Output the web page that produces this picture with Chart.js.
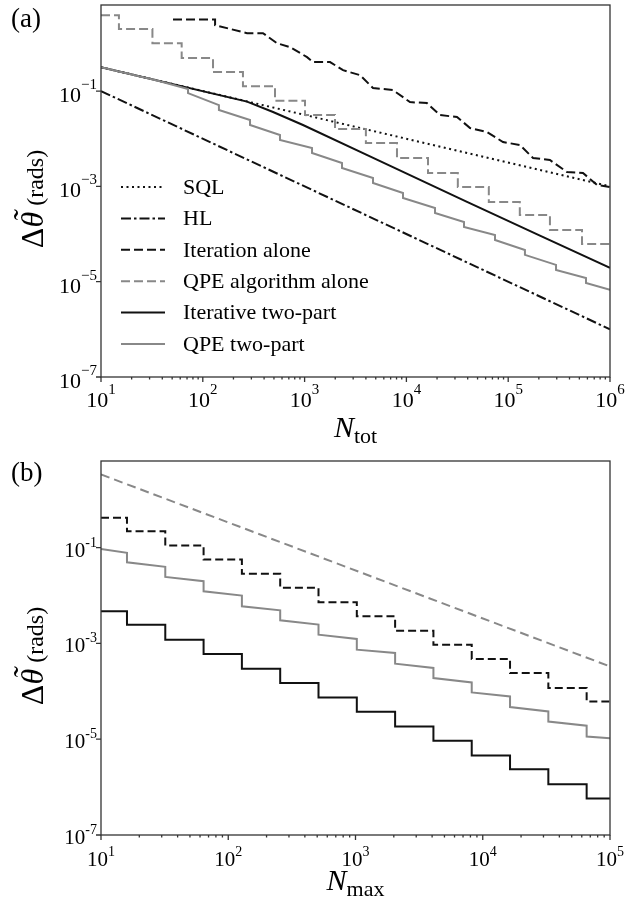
<!DOCTYPE html>
<html>
<head>
<meta charset="utf-8">
<script src="https://cdn.jsdelivr.net/npm/chart.js@4.4.1/dist/chart.umd.min.js"></script>
<style>
    body { margin: 0; background: #fff; }
    canvas { display: block; }
</style>
</head>
<body>
<canvas id="chartA" width="635" height="450"></canvas>
<canvas id="chartB" width="635" height="451"></canvas>
<script>
    // ---- panel (a) data: error vs total resources N_tot ----
    var sqlN = [10, 1000000];
    var sqlVal = [0.316, 0.001];
    var hlN = [10, 1000000];
    var hlVal = [0.1, 0.000001];

    var iterAloneN = [51, 132, 132, 272, 390, 536, 719, 1057, 1211, 1778, 2384, 3500, 4700, 7380, 10840, 15900,
        21400, 31400, 42200, 62000, 88900, 130600, 175400, 257000, 378000, 543000, 745000, 1000000];
    var iterAloneVal = [3.18, 3.18, 2.42, 1.64, 1.64, 1.01, 0.836, 0.516, 0.406, 0.406, 0.275, 0.216, 0.116, 0.105,
        0.0587, 0.056, 0.0314, 0.0285, 0.0168, 0.0138, 0.00853, 0.00738, 0.00394, 0.00357, 0.0020, 0.00191, 0.00107, 0.00097];

    // QPE algorithm alone is a staircase: step edges and the levels between them
    var qpeAloneEdges = [15, 32, 62, 126, 248, 512, 1009, 1990, 4000, 8080, 16300, 32000, 64500, 130000, 257000, 531000];
    var qpeAloneLevels = [3.92, 2.0, 1.01, 0.492, 0.25, 0.127, 0.0627, 0.0314, 0.016, 0.00812, 0.00394, 0.00191,
        0.000971, 0.000471, 0.000251, 0.000122, 0.0000619];

    var iterTwoN = [10, 272, 490, 964, 4385, 39400, 205000, 1000000];
    var iterTwoVal = [0.316, 0.06, 0.0363, 0.0194, 0.00428, 0.000471, 0.0000927, 0.0000195];

    var qpeTwoN = [10, 35.5, 71.6, 71.6, 144, 144, 291, 291, 573, 573, 1183, 1183, 2330, 2330, 4700, 4700,
        9260, 9260, 19100, 19100, 36800, 36800, 74200, 74200, 146000, 146000, 295000, 295000, 581000, 581000, 1000000];
    var qpeTwoVal = [0.316, 0.166, 0.110, 0.0908, 0.0508, 0.040, 0.0247, 0.0194, 0.0120, 0.0094, 0.00638, 0.00501,
        0.00310, 0.00243, 0.00150, 0.00118, 0.000727, 0.000571, 0.000352, 0.000277, 0.000179, 0.000141,
        0.0000957, 0.0000752, 0.0000464, 0.0000365, 0.0000225, 0.0000177, 0.0000120, 0.00000944, 0.00000673];

    // ---- panel (b) data: error vs N_max ----
    var qpeAloneBN = [10, 100000];
    var qpeAloneBVal = [3.35, 0.00033];

    var stepEdgesB = [16, 32, 64, 128, 256, 512, 1024, 2048, 4096, 8192, 16384, 32768, 65536];
    var iterAloneBLevels = [0.418, 0.219, 0.110, 0.0561, 0.0282, 0.0144, 0.00719, 0.00367, 0.00184, 0.000939,
        0.000472, 0.000240, 0.000117, 0.0000614];
    var iterTwoBLevels = [0.00467, 0.00246, 0.00119, 0.00060, 0.000296, 0.000149, 0.0000743, 0.0000374,
        0.0000184, 0.00000927, 0.00000456, 0.00000237, 0.00000115, 0.000000577];

    var qpeTwoBN = [10, 16, 16, 32, 32, 64, 64, 128, 128, 256, 256, 512, 512, 1024, 1024, 2048, 2048,
        4096, 4096, 8192, 8192, 16384, 16384, 32768, 32768, 65536, 65536, 100000];
    var qpeTwoBVal = [0.093, 0.0775, 0.0493, 0.0395, 0.0244, 0.0198, 0.0122, 0.00993, 0.00593, 0.00489, 0.00303,
        0.00246, 0.00152, 0.00124, 0.000739, 0.000630, 0.000376, 0.000306, 0.000189, 0.000153, 0.0000946,
        0.0000780, 0.0000469, 0.0000379, 0.0000234, 0.0000191, 0.0000114, 0.0000105];

    // ---- ticks ----
    var xTicksA = [10, 100, 1000, 10000, 100000, 1000000];
    var xExpA = ['1', '2', '3', '4', '5', '6'];
    var xTicksB = [10, 100, 1000, 10000, 100000];
    var xExpB = ['1', '2', '3', '4', '5'];
    var yTicks = [1e-7, 1e-5, 1e-3, 1e-1];
    var yExpA = ['\u22127', '\u22125', '\u22123', '\u22121'];
    var yExpB = ['-7', '-5', '-3', '-1'];

    var BLACK = '#111';
    var GRAY = '#888';
    var SERIF = '"Liberation Serif", "DejaVu Serif", serif';

    function pts(xs, ys) {
        return xs.map(function (x, i) { return { x: x, y: ys[i] }; });
    }

    // horizontal run at each level, vertical drop at each edge
    function stepPts(x0, edges, levels, x1) {
        var out = [{ x: x0, y: levels[0] }];
        edges.forEach(function (e, i) {
            out.push({ x: e, y: levels[i] });
            out.push({ x: e, y: levels[i + 1] });
        });
        out.push({ x: x1, y: levels[levels.length - 1] });
        return out;
    }

    function line(label, data, color, dash, order) {
        return {
            label: label,
            data: data,
            borderColor: color,
            borderDash: dash,
            borderWidth: 2,
            pointRadius: 0,
            showLine: true,
            fill: false,
            tension: 0,
            order: order
        };
    }

    function drawPow(ctx, x, y, exp, o, align) {
        ctx.font = o.baseSize + 'px ' + SERIF;
        var wb = ctx.measureText('10').width;
        ctx.font = o.expSize + 'px ' + SERIF;
        var we = ctx.measureText(exp).width;
        var start = align === 'right' ? x - wb - we : x - (wb + we) / 2;
        ctx.textAlign = 'left';
        ctx.textBaseline = 'alphabetic';
        ctx.font = o.baseSize + 'px ' + SERIF;
        ctx.fillText('10', start, y);
        ctx.font = o.expSize + 'px ' + SERIF;
        ctx.fillText(exp, start + wb, y - o.raise);
    }

    function drawParts(ctx, parts, x, y) {
        var w = 0;
        parts.forEach(function (p) { ctx.font = p.f; p.w = ctx.measureText(p.t).width; w += p.w; });
        var cx = x - w / 2;
        parts.forEach(function (p) {
            ctx.font = p.f;
            ctx.fillText(p.t, cx, y + (p.dy || 0));
            if (p.tilde) {
                ctx.fillText('\u02DC', cx + p.w / 2 - ctx.measureText('\u02DC').width / 2 + 3, y - 8);
            }
            cx += p.w;
        });
    }

    var framePlugin = {
        id: 'frame',
        afterDraw: function (chart, args, o) {
            var ctx = chart.ctx, a = chart.chartArea;
            var xs = chart.scales.x, ys = chart.scales.y;
            ctx.save();
            ctx.fillStyle = '#000';
            ctx.strokeStyle = '#333';
            ctx.lineWidth = 1.3;
            ctx.strokeRect(a.left, a.top, a.right - a.left, a.bottom - a.top);

            // x ticks, major and minor
            ctx.beginPath();
            for (var d = 0; d < o.xTicks.length; d++) {
                var px = xs.getPixelForValue(o.xTicks[d]);
                ctx.moveTo(px, a.bottom);
                ctx.lineTo(px, a.bottom + 5);
                if (d < o.xTicks.length - 1) {
                    for (var k = 2; k <= 9; k++) {
                        var mx = xs.getPixelForValue(o.xTicks[d] * k);
                        ctx.moveTo(mx, a.bottom);
                        ctx.lineTo(mx, a.bottom + 2.5);
                    }
                }
            }
            o.yTicks.forEach(function (v) {
                var py = ys.getPixelForValue(v);
                ctx.moveTo(a.left - 5, py);
                ctx.lineTo(a.left, py);
            });
            ctx.stroke();

            o.xTicks.forEach(function (v, i) {
                drawPow(ctx, xs.getPixelForValue(v), a.bottom + o.xLabelDy, o.xExp[i], o, 'center');
            });
            o.yTicks.forEach(function (v, i) {
                drawPow(ctx, a.left - 4, ys.getPixelForValue(v) + o.yLabelDy, o.yExp[i], o, 'right');
            });

            // axis titles
            ctx.textAlign = 'left';
            ctx.textBaseline = 'alphabetic';
            drawParts(ctx, [
                { t: 'N', f: 'italic 30px ' + SERIF },
                { t: o.xSub, f: '22px ' + SERIF, dy: 6 }
            ], (a.left + a.right) / 2, o.xTitleY);

            ctx.save();
            ctx.translate(o.yTitleX, (a.top + a.bottom) / 2 + 8);
            ctx.rotate(-Math.PI / 2);
            drawParts(ctx, [
                { t: '\u0394', f: '32px ' + SERIF },
                { t: '\u03B8', f: 'italic 32px ' + SERIF, tilde: true },
                { t: ' (rads)', f: '24px ' + SERIF }
            ], 0, 0);
            ctx.restore();

            ctx.font = '27px ' + SERIF;
            ctx.fillText(o.panel, 11, o.panelY);

            // legend drawn inside the axes
            if (o.legend) {
                var lx = a.left + 20, ly = a.top + 182;
                o.legend.forEach(function (idx, r) {
                    var ds = chart.data.datasets[idx];
                    var yy = ly + r * 31.4;
                    ctx.save();
                    ctx.strokeStyle = ds.borderColor;
                    ctx.lineWidth = ds.borderWidth;
                    ctx.setLineDash(ds.borderDash || []);
                    ctx.beginPath();
                    ctx.moveTo(lx, yy);
                    ctx.lineTo(lx + 44, yy);
                    ctx.stroke();
                    ctx.restore();
                    ctx.font = '22px ' + SERIF;
                    ctx.textBaseline = 'middle';
                    ctx.fillText(ds.label, lx + 62, yy + 1);
                });
            }
            ctx.restore();
        }
    };

    function logAxes(xMax) {
        return {
            x: { type: 'logarithmic', min: 10, max: xMax, display: false },
            y: { type: 'logarithmic', min: 1e-7, max: 6.4, display: false }
        };
    }

    new Chart(document.getElementById('chartA'), {
        type: 'scatter',
        data: {
            datasets: [
                line('SQL', pts(sqlN, sqlVal), BLACK, [2, 3.5], 5),
                line('HL', pts(hlN, hlVal), BLACK, [10, 3, 2.5, 3], 4),
                line('Iteration alone', pts(iterAloneN, iterAloneVal), BLACK, [9, 4], 3),
                line('QPE algorithm alone', stepPts(10, qpeAloneEdges, qpeAloneLevels, 1000000), GRAY, [9, 4], 2),
                line('Iterative two-part', pts(iterTwoN, iterTwoVal), BLACK, [], 1),
                line('QPE two-part', pts(qpeTwoN, qpeTwoVal), GRAY, [], 0)
            ]
        },
        options: {
            responsive: false,
            animation: false,
            layout: { padding: { left: 101, right: 25, top: 5, bottom: 73 } },
            plugins: {
                legend: { display: false },
                tooltip: { enabled: false },
                frame: {
                    xTicks: xTicksA, xExp: xExpA, yTicks: yTicks, yExp: yExpA,
                    baseSize: 22, expSize: 15, raise: 13, xLabelDy: 30, yLabelDy: 11,
                    xSub: 'tot', xTitleY: 437, yTitleX: 43, panel: '(a)', panelY: 27,
                    legend: [0, 1, 2, 3, 4, 5]
                }
            },
            scales: logAxes(1000000)
        },
        plugins: [framePlugin]
    });

    new Chart(document.getElementById('chartB'), {
        type: 'scatter',
        data: {
            datasets: [
                line('Iteration alone', stepPts(10, stepEdgesB, iterAloneBLevels, 100000), BLACK, [8, 4], 3),
                line('QPE algorithm alone', pts(qpeAloneBN, qpeAloneBVal), GRAY, [9, 5], 2),
                line('Iterative two-part', stepPts(10, stepEdgesB, iterTwoBLevels, 100000), BLACK, [], 1),
                line('QPE two-part', pts(qpeTwoBN, qpeTwoBVal), GRAY, [], 0)
            ]
        },
        options: {
            responsive: false,
            animation: false,
            layout: { padding: { left: 101, right: 25, top: 11, bottom: 66 } },
            plugins: {
                legend: { display: false },
                tooltip: { enabled: false },
                frame: {
                    xTicks: xTicksB, xExp: xExpB, yTicks: yTicks, yExp: yExpB,
                    baseSize: 21, expSize: 14, raise: 10, xLabelDy: 31, yLabelDy: 9,
                    xSub: 'max', xTitleY: 440, yTitleX: 43, panel: '(b)', panelY: 31
                }
            },
            scales: logAxes(100000)
        },
        plugins: [framePlugin]
    });
</script>
</body>
</html>
